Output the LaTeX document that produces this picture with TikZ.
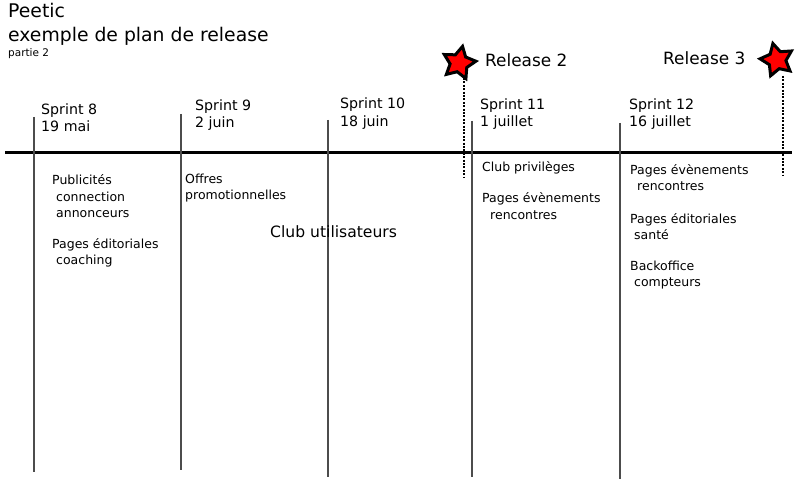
\documentclass[tikz,border=0pt]{standalone}
\usepackage{fontspec}
\setmainfont{DejaVu Sans}
\usetikzlibrary{shapes.geometric}
\begin{document}
\begin{tikzpicture}[x=1pt,y=-1pt,
  txt/.style={anchor=base west,inner sep=0pt,font=\fontsize{#1}{#1}\selectfont},
  txt/.default=12.5,
  sprintline/.style={draw=black!70,line width=1.3pt},
  relline/.style={draw=black,line width=2.6pt,dash pattern=on 2pt off 1.4pt},
  relstar/.style={star,star points=5,star point ratio=1.9,minimum size=34pt,inner sep=0pt,
    fill=red,draw=black,line width=3pt,line join=miter}]
\useasboundingbox (0,0) rectangle (800,481);
\fill[white] (0,0) rectangle (800,481);
% title
\node[txt=18.8] (t1) at (8,18) {Peetic};
\node[txt=18.8] (t2) at (8,42) {exemple de plan de release};
\node[txt=10.5] (t3) at (8,57) {partie 2};
% timeline
\coordinate (tl0) at (5,153);
\coordinate (tl1) at (792,153);
\draw[line width=3pt] (tl0) -- (tl1);
% sprint lines
\coordinate (s8a) at (34,117);  \coordinate (s8b) at (34,472);
\coordinate (s9a) at (181,114); \coordinate (s9b) at (181,470);
\coordinate (s10a) at (328,120); \coordinate (s10b) at (328,477);
\coordinate (s11a) at (472,121); \coordinate (s11b) at (472,477);
\coordinate (s12a) at (620,123); \coordinate (s12b) at (620,479);
\draw[sprintline] (s8a) -- (s8b);
\draw[sprintline] (s9a) -- (s9b);
\draw[sprintline] (s10a) -- (s10b);
\draw[sprintline] (s11a) -- (s11b);
\draw[sprintline] (s12a) -- (s12b);
% releases
\coordinate (r2a) at (464,78);
\coordinate (r3a) at (783,76);
\coordinate (r2b) at (464,178);
\coordinate (r3b) at (783,176);
\draw[relline] (r2a) -- (r2b);
\draw[relline] (r3a) -- (r3b);
\node[relstar,rotate=-12] (st2) at (459,63) {};
\node[relstar,rotate=14] (st3) at (777,60) {};
\node[txt=16.9] (rel2) at (485,67) {Release 2};
\node[txt=16.9] (rel3) at (663,65) {Release 3};
% sprint labels
\node[txt=14.2] (sp8) at (41,115) {Sprint 8};
\node[txt=14.2] (d8) at (41,132) {19 mai};
\node[txt=14.2] (sp9) at (195,111) {Sprint 9};
\node[txt=14.2] (d9) at (195,128) {2 juin};
\node[txt=14.2] (sp10) at (340,109) {Sprint 10};
\node[txt=14.2] (d10) at (340,127) {18 juin};
\node[txt=14.2] (sp11) at (480,110) {Sprint 11};
\node[txt=14.2] (d11) at (480,127) {1 juillet};
\node[txt=14.2] (sp12) at (629,110) {Sprint 12};
\node[txt=14.2] (d12) at (629,127) {16 juillet};
% sprint 8 items
\node[txt] (a1) at (52,185) {Publicités};
\node[txt] (a2) at (56,201) {connection};
\node[txt] (a3) at (56,217) {annonceurs};
\node[txt] (a4) at (52,248) {Pages éditoriales};
\node[txt] (a5) at (56,264) {coaching};
% sprint 9 items
\node[txt] (b1) at (185,184) {Offres};
\node[txt] (b2) at (185,200) {promotionnelles};
% club
\node[txt=15.6] (club) at (270,237) {Club utilisateurs};
% sprint 11
\node[txt] (c1) at (482,172) {Club privilèges};
\node[txt] (c2) at (482,203) {Pages évènements};
\node[txt] (c3) at (490,219) {rencontres};
% sprint 12
\node[txt] (e1) at (630,175) {Pages évènements};
\node[txt] (e2) at (637,191) {rencontres};
\node[txt] (e3) at (630,223) {Pages éditoriales};
\node[txt] (e4) at (634,239) {santé};
\node[txt] (e5) at (630,270) {Backoffice};
\node[txt] (e6) at (634,286) {compteurs};
\end{tikzpicture}
\end{document}
